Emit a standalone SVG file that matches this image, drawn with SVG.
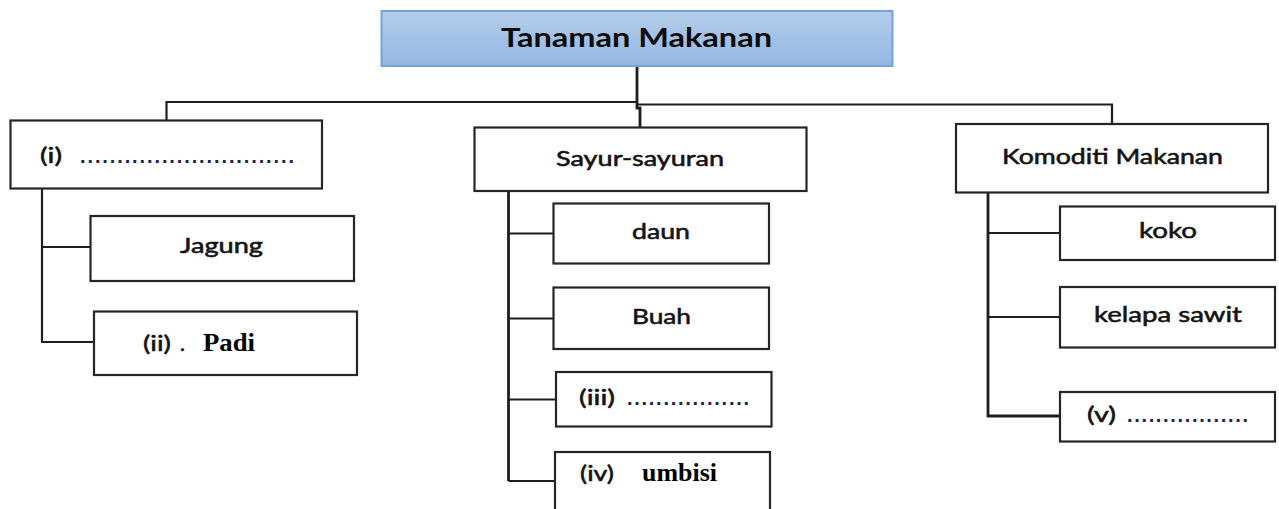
<svg xmlns="http://www.w3.org/2000/svg" width="1279" height="509" viewBox="0 0 1279 509">
  <defs>
    <linearGradient id="rootFill" x1="0" y1="0" x2="0" y2="1">
      <stop offset="0" stop-color="#b4cdea"/>
      <stop offset="1" stop-color="#93b6e2"/>
    </linearGradient>
    <style>
      .box { fill: #ffffff; stroke: #262626; stroke-width: 2.2; }
      .root { fill: url(#rootFill); stroke: #74a3dc; stroke-width: 2; }
      .link { fill: none; stroke: #1e1e1e; stroke-width: 2.2; stroke-linejoin: miter; }
      .trunk { stroke-width: 2.8; }
      .lbl { font-family: Lato, "Open Sans", "Liberation Sans", sans-serif; font-size: 21px; fill: #141414; stroke: #141414; stroke-width: 0.55; }
      .title { font-family: Lato, "Open Sans", "Liberation Sans", sans-serif; font-size: 27px; font-weight: bold; fill: #0c0c0c; }
      .ans { font-family: "Liberation Serif", "Times New Roman", serif; font-size: 26px; font-weight: bold; fill: #000000; }
      .dots { font-family: "Liberation Sans", sans-serif; font-size: 20px; font-weight: bold; fill: #1b2448; }
    </style>
  </defs>

  <rect width="1279" height="509" fill="#ffffff"/>

  <!-- connectors -->
  <g id="connectors">
    <!-- root to the three categories -->
    <path class="link trunk" d="M637,66 V108 H640 V128"/>
    <path class="link" d="M637,102 H166.5 V120"/>
    <path class="link" d="M637,104.5 H1112 V124"/>
    <!-- left column -->
    <path class="link" d="M42,189 V342 H94"/>
    <path class="link" d="M42,247 H90"/>
    <!-- middle column -->
    <path class="link trunk" d="M508.5,191 V481"/>
    <path class="link" d="M508.5,233.5 H553.5"/>
    <path class="link" d="M508.5,318.5 H553.5"/>
    <path class="link" d="M508.5,399.5 H556"/>
    <path class="link" d="M508.5,481 H555"/>
    <!-- right column -->
    <path class="link trunk" d="M988,192.5 V416 H1060"/>
    <path class="link" d="M988,233 H1060"/>
    <path class="link" d="M988,317 H1060"/>
  </g>

  <!-- root -->
  <g id="node-root">
    <rect class="root" x="381.5" y="11" width="511" height="55"/>
    <text class="title" x="636.5" y="47" text-anchor="middle" textLength="271" lengthAdjust="spacingAndGlyphs">Tanaman Makanan</text>
  </g>

  <!-- category (i) -->
  <g id="node-i">
    <rect class="box" x="10.5" y="120.5" width="311.5" height="68"/>
    <text class="lbl" x="40" y="163" textLength="22" lengthAdjust="spacingAndGlyphs">(i)</text>
    <text class="dots" x="80" y="163" textLength="214" lengthAdjust="spacing">.............................</text>
  </g>

  <g id="node-jagung">
    <rect class="box" x="90.5" y="216" width="263.5" height="65"/>
    <text class="lbl" x="180" y="253" textLength="83" lengthAdjust="spacingAndGlyphs">Jagung</text>
  </g>

  <g id="node-ii">
    <rect class="box" x="94" y="311.5" width="263" height="63.5"/>
    <text class="lbl" x="143" y="351" textLength="28" lengthAdjust="spacingAndGlyphs">(ii)</text>
    <text class="lbl" x="180" y="351">.</text>
    <text class="ans" x="203" y="351" textLength="52" lengthAdjust="spacingAndGlyphs">Padi</text>
  </g>

  <!-- category Sayur-sayuran -->
  <g id="node-sayur">
    <rect class="box" x="474.5" y="127.5" width="332" height="63.5"/>
    <text class="lbl" x="556" y="165.5" textLength="168" lengthAdjust="spacingAndGlyphs">Sayur-sayuran</text>
  </g>

  <g id="node-daun">
    <rect class="box" x="553.5" y="203.5" width="215.5" height="60"/>
    <text class="lbl" x="632" y="239" textLength="58" lengthAdjust="spacingAndGlyphs">daun</text>
  </g>

  <g id="node-buah">
    <rect class="box" x="553.5" y="287.5" width="215.5" height="61.5"/>
    <text class="lbl" x="632" y="324" textLength="59" lengthAdjust="spacingAndGlyphs">Buah</text>
  </g>

  <g id="node-iii">
    <rect class="box" x="556" y="372" width="215.5" height="54.5"/>
    <text class="lbl" x="579" y="405" textLength="36" lengthAdjust="spacingAndGlyphs">(iii)</text>
    <text class="dots" x="627" y="405" textLength="122" lengthAdjust="spacing">.................</text>
  </g>

  <g id="node-iv">
    <rect class="box" x="555" y="452" width="215" height="70"/>
    <text class="lbl" x="580" y="481" textLength="34" lengthAdjust="spacingAndGlyphs">(iv)</text>
    <text class="ans" x="642" y="481" textLength="75" lengthAdjust="spacingAndGlyphs">umbisi</text>
  </g>

  <!-- category Komoditi Makanan -->
  <g id="node-komoditi">
    <rect class="box" x="956" y="124" width="312" height="68.5"/>
    <text class="lbl" x="1002" y="164" textLength="221" lengthAdjust="spacingAndGlyphs">Komoditi Makanan</text>
  </g>

  <g id="node-koko">
    <rect class="box" x="1060" y="206.5" width="215" height="53.5"/>
    <text class="lbl" x="1139" y="238" textLength="58" lengthAdjust="spacingAndGlyphs">koko</text>
  </g>

  <g id="node-kelapa">
    <rect class="box" x="1060" y="287" width="215" height="60.5"/>
    <text class="lbl" x="1094" y="322" textLength="148" lengthAdjust="spacingAndGlyphs">kelapa sawit</text>
  </g>

  <g id="node-v">
    <rect class="box" x="1060" y="392" width="215" height="49.5"/>
    <text class="lbl" x="1087" y="422" textLength="29" lengthAdjust="spacingAndGlyphs">(v)</text>
    <text class="dots" x="1127" y="422" textLength="121" lengthAdjust="spacing">.................</text>
  </g>
</svg>
